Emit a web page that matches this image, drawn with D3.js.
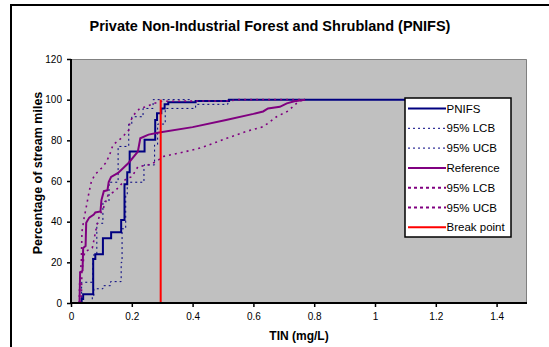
<!DOCTYPE html>
<html>
<head>
<meta charset="utf-8">
<script src="https://cdn.jsdelivr.net/npm/d3@7"></script>
<style>
  body { margin: 0; background: #fff; }
  svg { display: block; font-family: "Liberation Sans", Arial, sans-serif; }
</style>
</head>
<body>
<div id="chart"></div>
<script>
// values
const title = "Private Non-Industrial Forest and Shrubland (PNIFS)";
const xLabel = "TIN (mg/L)";
const yLabel = "Percentage of stream miles";
const xTicks = [0, 0.2, 0.4, 0.6, 0.8, 1, 1.2, 1.4];
const yTicks = [0, 20, 40, 60, 80, 100, 120];
const legendNames = ["PNIFS", "95% LCB", "95% UCB", "Reference", "95% LCB", "95% UCB", "Break point"];

// step curves (x, percent)
const pnifs = [[0,0],[0.035,2],[0.04,4.3],[0.073,21.6],[0.08,24],[0.105,31.8],[0.132,34.8],[0.165,40.8],
  [0.176,58.4],[0.185,64.3],[0.193,74.5],[0.242,80.3],[0.277,90],[0.283,93.3],[0.297,95.7],[0.308,97.7],
  [0.32,98.7],[0.41,99.4],[0.52,100],[1.4,100]];
const pnifsLcb = [[0,0],[0.07,3],[0.075,7],[0.105,8.5],[0.13,10.5],[0.165,20],[0.168,36.5],[0.18,53],
  [0.185,59.4],[0.24,67.9],[0.275,77.7],[0.285,88],[0.31,95.7],[0.41,97.7],[0.516,100],[0.6,100]];
const pnifsUcb = [[0,0],[0.035,10.2],[0.072,23.6],[0.085,39.2],[0.105,50],[0.125,59.4],[0.155,77],
  [0.19,88],[0.2,91.6],[0.237,95.7],[0.27,100],[0.4,100]];

// reference curves
const reference = [[0.028,0],[0.03,15],[0.038,16],[0.04,27],[0.048,28],[0.05,39.5],[0.06,42],[0.075,43.5],
  [0.08,44.5],[0.097,45],[0.1,50.5],[0.108,55],[0.12,55.5],[0.124,59.5],[0.132,62],[0.155,64],[0.19,69],
  [0.22,74.5],[0.228,81],[0.255,82.8],[0.29,83.8],[0.4,86.5],[0.51,90],[0.6,93],[0.632,94.2],[0.648,95.7],
  [0.687,96.5],[0.71,98.2],[0.735,99.2],[0.77,100]];
const refLcb = [[0.03,0],[0.034,2],[0.036,16],[0.045,25.2],[0.07,27],[0.083,36.7],[0.094,43.3],[0.105,46],
  [0.122,53.1],[0.143,54.8],[0.163,58],[0.182,61.3],[0.2,62],[0.22,67],[0.253,67.9],[0.28,69.5],[0.302,72],
  [0.375,74.4],[0.43,76.4],[0.512,81],[0.577,84.4],[0.632,86.7],[0.648,88.4],[0.676,91.6],[0.714,94.4],
  [0.742,98.2],[0.763,100]];
const refUcb = [[0.027,0],[0.029,13],[0.034,20],[0.036,35],[0.043,41.7],[0.05,47],[0.06,55],[0.067,59.7],
  [0.078,63],[0.1,66.3],[0.115,69],[0.127,72.8],[0.138,77.7],[0.165,81],[0.19,85],[0.193,88.4],[0.204,92.1],
  [0.226,95.7],[0.248,96.6],[0.275,98.2],[0.3,99.2],[0.52,99.4],[0.55,100],[0.77,100]];
const breakPoint = 0.295;

const W = 549, H = 347;
const plot = { left: 71, top: 59, right: 527, bottom: 303 };

const svg = d3.select("#chart").append("svg")
  .attr("width", W).attr("height", H);

// outer chart frame (runs off the right/bottom edges)
svg.append("rect")
  .attr("x", 11).attr("y", 5)
  .attr("width", 560).attr("height", 360)
  .attr("fill", "#fff").attr("stroke", "#000").attr("stroke-width", 2);

svg.append("text")
  .attr("x", 270).attr("y", 31)
  .attr("text-anchor", "middle")
  .attr("font-size", 14.5).attr("font-weight", "bold")
  .text(title);

const x = d3.scaleLinear().domain([0, 1.5]).range([plot.left, plot.right]);
const y = d3.scaleLinear().domain([0, 120]).range([plot.bottom, plot.top]);

svg.append("rect")
  .attr("x", plot.left).attr("y", plot.top)
  .attr("width", plot.right - plot.left).attr("height", plot.bottom - plot.top)
  .attr("fill", "#c0c0c0");
// gray border top/right
svg.append("path")
  .attr("d", `M${plot.left},${plot.top + 0.5}H${plot.right - 0.5}V${plot.bottom}`)
  .attr("fill", "none").attr("stroke", "#808080").attr("stroke-width", 1);

svg.append("defs").append("clipPath").attr("id", "clip")
  .append("rect")
  .attr("x", plot.left).attr("y", plot.top - 2)
  .attr("width", plot.right - plot.left).attr("height", plot.bottom - plot.top + 2);

const g = svg.append("g").attr("clip-path", "url(#clip)");

const stepLine = d3.line().x(d => x(d[0])).y(d => y(d[1])).curve(d3.curveStepAfter);
const linLine = d3.line().x(d => x(d[0])).y(d => y(d[1]));

const styles = [
  { data: pnifs, gen: stepLine, color: "#000080", w: 2, dash: null },
  { data: pnifsLcb, gen: stepLine, color: "#000080", w: 1, dash: "2,3" },
  { data: pnifsUcb, gen: stepLine, color: "#000080", w: 1, dash: "2,3" },
  { data: reference, gen: linLine, color: "#800080", w: 2, dash: null },
  { data: refLcb, gen: linLine, color: "#800080", w: 1.6, dash: "2,4" },
  { data: refUcb, gen: linLine, color: "#800080", w: 1.6, dash: "2,4" }
];

styles.forEach(s => {
  g.append("path")
    .datum(s.data)
    .attr("fill", "none")
    .attr("stroke", s.color)
    .attr("stroke-width", s.w)
    .attr("stroke-dasharray", s.dash)
    .attr("d", s.gen);
});

g.append("line")
  .attr("x1", x(breakPoint)).attr("x2", x(breakPoint))
  .attr("y1", y(0)).attr("y2", y(100))
  .attr("stroke", "#ff0000").attr("stroke-width", 2);

// axes
const xAxis = svg.append("g")
  .attr("transform", `translate(0,${plot.bottom})`)
  .call(d3.axisBottom(x).tickValues(xTicks).tickSize(4).tickPadding(6).tickFormat(d3.format("")));
const yAxis = svg.append("g")
  .attr("transform", `translate(${plot.left},0)`)
  .call(d3.axisLeft(y).tickValues(yTicks).tickSize(4).tickPadding(5));

[xAxis, yAxis].forEach(a => {
  a.select(".domain").attr("stroke", "#000").attr("stroke-width", 2);
  a.selectAll(".tick line").attr("stroke", "#000").attr("stroke-width", 1.5);
  a.selectAll("text").attr("font-size", 10).attr("fill", "#000")
    .attr("font-family", "Liberation Sans, Arial, sans-serif");
});
xAxis.select(".domain").attr("d", `M${plot.left},0H${plot.right}`);
yAxis.select(".domain").attr("d", `M0,${plot.bottom}V${plot.top}`);

svg.append("text")
  .attr("x", (plot.left + plot.right) / 2).attr("y", 340)
  .attr("text-anchor", "middle")
  .attr("font-size", 12).attr("font-weight", "bold")
  .text(xLabel);

svg.append("text")
  .attr("transform", `translate(42,173) rotate(-90)`)
  .attr("text-anchor", "middle")
  .attr("font-size", 12.5).attr("font-weight", "bold")
  .text(yLabel);

// legend
const legend = svg.append("g");
legend.append("rect")
  .attr("x", 405).attr("y", 98)
  .attr("width", 106).attr("height", 139)
  .attr("fill", "#fff").attr("stroke", "#000").attr("stroke-width", 1.5);

const legendStyles = [
  { color: "#000080", w: 2, dash: null },
  { color: "#000080", w: 1, dash: "2,3" },
  { color: "#000080", w: 1, dash: "2,3" },
  { color: "#800080", w: 2, dash: null },
  { color: "#800080", w: 2, dash: "3,3" },
  { color: "#800080", w: 2, dash: "3,3" },
  { color: "#ff0000", w: 2, dash: null }
];

legendNames.forEach((name, i) => {
  const ly = 108.5 + i * 19.8;
  legend.append("line")
    .attr("x1", 408).attr("x2", 446)
    .attr("y1", ly).attr("y2", ly)
    .attr("stroke", legendStyles[i].color)
    .attr("stroke-width", legendStyles[i].w)
    .attr("stroke-dasharray", legendStyles[i].dash);
  legend.append("text")
    .attr("x", 446.5).attr("y", ly + 4)
    .attr("font-size", 11.5)
    .text(name);
});
</script>
</body>
</html>
